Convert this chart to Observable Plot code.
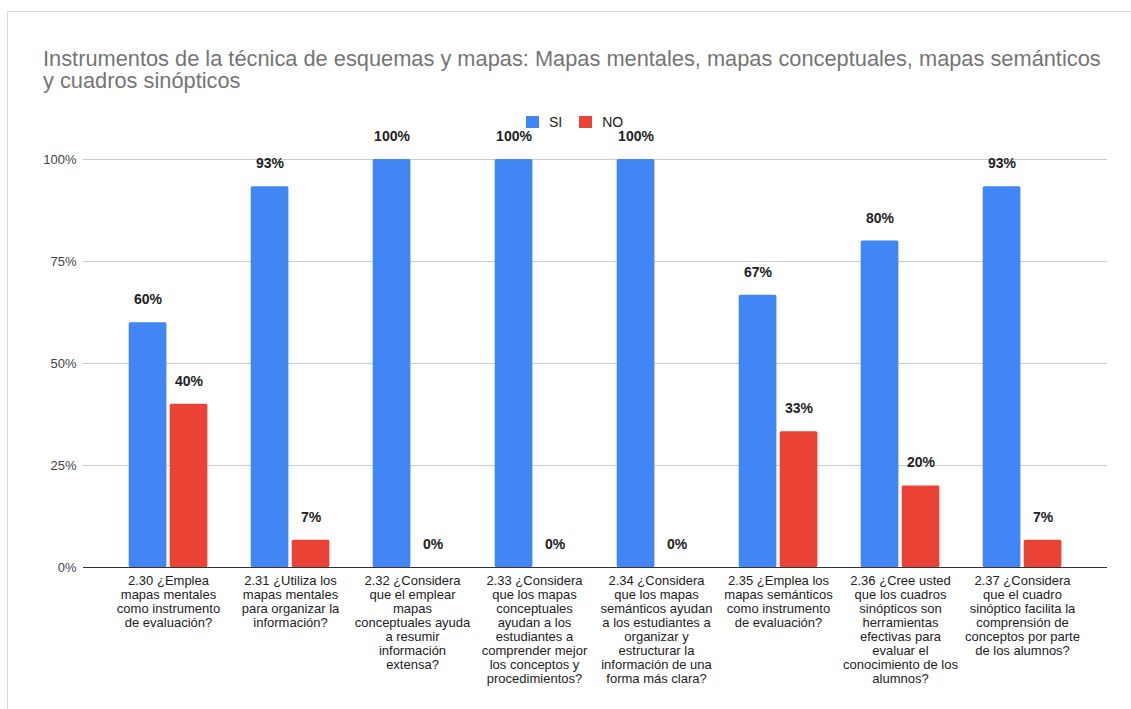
<!DOCTYPE html>
<html>
<head>
<meta charset="utf-8">
<script src="https://cdn.jsdelivr.net/npm/d3@7"></script>
<script src="https://cdn.jsdelivr.net/npm/@observablehq/plot@0.6"></script>
<style>
  html, body { margin: 0; padding: 0; background: #fff; }
  #page { position: relative; width: 1131px; height: 709px; overflow: hidden; }
  #frame { position: absolute; left: 7px; top: 11px; width: 1200px; height: 800px;
           border-top: 1px solid #dadada; border-left: 1px solid #dadada; }
  #title { position: absolute; left: 43px; top: 48px; width: 1070px;
           font-family: "Liberation Sans", Arial, sans-serif; font-size: 21.8px;
           line-height: 22px; color: #757575; }
  #legend { position: absolute; top: 115px; left: 526px; font-family: "Liberation Sans", Arial, sans-serif;
            font-size: 14px; line-height: 14px; color: #222; display: flex; align-items: center; }
  #legend .sw { display: inline-block; width: 13px; height: 12px; margin-right: 10px; }
  #legend .it { display: flex; align-items: center; margin-right: 17px; }
  #chart { position: absolute; left: 0; top: 100px; }
</style>
</head>
<body>
<div id="page">
  <div id="frame"></div>
  <div id="title">Instrumentos de la técnica de esquemas y mapas: Mapas mentales, mapas conceptuales, mapas semánticos y cuadros sinópticos</div>
  <div id="legend"></div>
  <div id="chart"></div>
</div>
<script>
const categories = ["2.30", "2.31", "2.32", "2.33", "2.34", "2.35", "2.36", "2.37"];
const tickLabels = [
  "2.30 ¿Emplea\nmapas mentales\ncomo instrumento\nde evaluación?",
  "2.31 ¿Utiliza los\nmapas mentales\npara organizar la\ninformación?",
  "2.32 ¿Considera\nque el emplear\nmapas\nconceptuales ayuda\na resumir\ninformación\nextensa?",
  "2.33 ¿Considera\nque los mapas\nconceptuales\nayudan a los\nestudiantes a\ncomprender mejor\nlos conceptos y\nprocedimientos?",
  "2.34 ¿Considera\nque los mapas\nsemánticos ayudan\na los estudiantes a\norganizar y\nestructurar la\ninformación de una\nforma más clara?",
  "2.35 ¿Emplea los\nmapas semánticos\ncomo instrumento\nde evaluación?",
  "2.36 ¿Cree usted\nque los cuadros\nsinópticos son\nherramientas\nefectivas para\nevaluar el\nconocimiento de los\nalumnos?",
  "2.37 ¿Considera\nque el cuadro\nsinóptico facilita la\ncomprensión de\nconceptos por parte\nde los alumnos?"
];
const siValues = [60, 93.3, 100, 100, 100, 66.7, 80, 93.3];
const noValues = [40, 6.7, 0, 0, 0, 33.3, 20, 6.7];
const seriesNames = ["SI", "NO"];
const seriesColors = ["#4285F4", "#EA4335"];
const yTicks = [0, 25, 50, 75, 100];

const data = categories.map((c, i) => ({cat: c, SI: siValues[i], NO: noValues[i], label: tickLabels[i]}));

const legend = document.getElementById("legend");
seriesNames.forEach((s, i) => {
  const it = document.createElement("span");
  it.className = "it";
  it.innerHTML = `<span class="sw" style="background:${seriesColors[i]}"></span>${s}`;
  legend.appendChild(it);
});

const chart = Plot.plot({
  width: 1131,
  height: 609,
  marginLeft: 83,
  marginRight: 24,
  marginTop: 59,
  marginBottom: 142,
  style: {fontFamily: "'Liberation Sans', Arial, sans-serif", background: "transparent"},
  x: {domain: categories, paddingInner: 0, paddingOuter: 0.175, axis: null},
  y: {domain: [0, 100], axis: null},
  marks: [
    Plot.ruleY(yTicks.filter(d => d > 0), {stroke: "#cccccc", strokeWidth: 1}),
    Plot.barY(data, {x: "cat", y: "SI", fill: seriesColors[0], insetLeft: 21.7, insetRight: 62.6, rx: 1.5}),
    Plot.barY(data, {x: "cat", y: "NO", fill: seriesColors[1], insetLeft: 62.7, insetRight: 21.6, rx: 1.5}),
    Plot.ruleY([0], {stroke: "#333333", strokeWidth: 1}),
    Plot.text(yTicks, {y: d => d, text: d => d + "%", frameAnchor: "left", textAnchor: "end", dx: -7, fill: "#444", fontSize: 13}),
    Plot.text(data, {x: "cat", text: "label", frameAnchor: "bottom", lineAnchor: "top", dy: 8, lineHeight: 1.077, fill: "#222", fontSize: 13}),
    Plot.text(data, {x: "cat", y: "SI", text: d => Math.round(d.SI) + "%", dx: -20.5, dy: -23, fontWeight: "bold", fontSize: 14, fill: "#222"}),
    Plot.text(data, {x: "cat", y: "NO", text: d => Math.round(d.NO) + "%", dx: 20.5, dy: -23, fontWeight: "bold", fontSize: 14, fill: "#222"})
  ]
});
document.getElementById("chart").appendChild(chart);
</script>
</body>
</html>
